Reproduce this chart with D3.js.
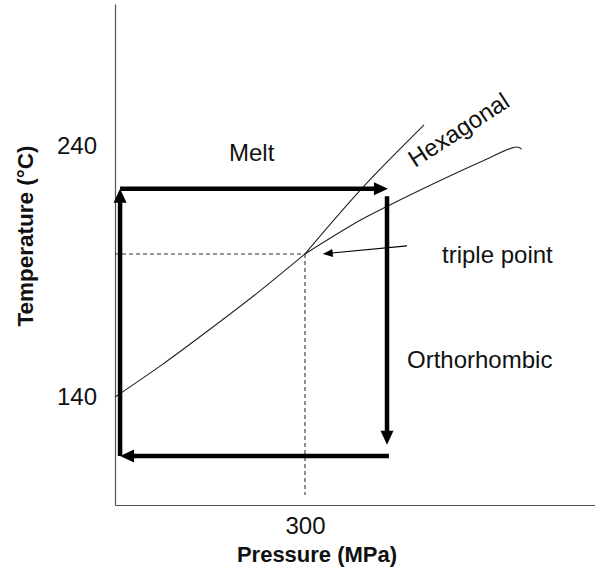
<!DOCTYPE html>
<html>
<head>
<meta charset="utf-8">
<script src="https://cdn.jsdelivr.net/npm/d3@7"></script>
<style>
  body { margin: 0; background: #fff; }
  text { font-family: "Liberation Sans", Arial, sans-serif; fill: #111; }
</style>
</head>
<body>
<svg id="chart" width="595" height="569"></svg>
<script>
// Axis ticks
const pressureTicks = [300];
const temperatureTicks = [140, 240];

// Phase boundaries as [pressure (MPa), temperature (°C)]
const orthoMeltBoundary = [[0, 140], [75, 153], [150, 167], [225, 181.5], [300, 197]];
const hexMeltBoundary = [[300, 197], [392, 223.7], [488, 248.4]];
const orthoHexBoundary = [[300, 197], [387, 210.4], [430, 216], [576, 233.5], [634, 239.6], [642, 238.8]];
const triplePoint = [300, 197];

// Processing cycle: heat, pressurise, cool, depressurise
const cycleLegs = [
  [[8, 116.5], [8, 223]],
  [[8, 223], [431, 223]],
  [[429.5, 220], [429.5, 121]],
  [[432.5, 116.5], [8, 116.5]]
];

// Leader pointing at the triple point
const pointerFrom = [461, 200.2];
const pointerTo = [328, 197];

const svg = d3.select("#chart");

const x = d3.scaleLinear().domain([0, 300]).range([115, 305]);
const y = d3.scaleLinear().domain([140, 240]).range([397, 146]);

// Axes span the full plotting frame
const xAxisScale = x.copy().domain([x.invert(115), x.invert(595)]).range([115, 595]);
const yAxisScale = y.copy().domain([y.invert(505), y.invert(4)]).range([505, 4]);

const xAxis = svg.append("g")
  .attr("transform", "translate(0,505)")
  .call(d3.axisBottom(xAxisScale).tickValues(pressureTicks).tickSize(0).tickPadding(12).tickFormat(d3.format("d")));
const yAxis = svg.append("g")
  .attr("transform", "translate(115,0)")
  .call(d3.axisLeft(yAxisScale).tickValues(temperatureTicks).tickSize(0).tickPadding(18).tickFormat(d3.format("d")));

[xAxis, yAxis].forEach(g => {
  g.select(".domain").attr("stroke", "#555").attr("stroke-width", 1.2);
  g.selectAll("text").attr("font-size", 24).attr("fill", "#111")
    .attr("font-family", "'Liberation Sans', Arial, sans-serif");
});

// Axis titles
svg.append("text")
  .attr("x", 317).attr("y", 562)
  .attr("text-anchor", "middle")
  .attr("font-size", 22).attr("font-weight", "bold")
  .text("Pressure (MPa)");
svg.append("text")
  .attr("transform", "translate(33,236) rotate(-90)")
  .attr("text-anchor", "middle")
  .attr("font-size", 22.5).attr("font-weight", "bold")
  .text("Temperature (°C)");

// Dashed guides to the triple point
const guides = svg.append("g")
  .attr("stroke", "#333").attr("stroke-width", 1.1).attr("stroke-dasharray", "4,3").attr("fill", "none");
guides.append("line")
  .attr("x1", x(0)).attr("y1", y(triplePoint[1]))
  .attr("x2", x(triplePoint[0])).attr("y2", y(triplePoint[1]));
guides.append("line")
  .attr("x1", x(triplePoint[0])).attr("y1", y(triplePoint[1]))
  .attr("x2", x(triplePoint[0])).attr("y2", y(101));

// Phase boundary curves
const curve = d3.line().x(d => x(d[0])).y(d => y(d[1])).curve(d3.curveCatmullRom.alpha(0.5));
svg.append("g")
  .attr("fill", "none").attr("stroke", "#222").attr("stroke-width", 1.1)
  .selectAll("path")
  .data([orthoMeltBoundary, hexMeltBoundary, orthoHexBoundary])
  .join("path")
  .attr("d", curve);

// Arrow drawing helper: shaft plus triangular head at the end point
function arrow(g, from, to, width, headLen, headHalf) {
  const x1 = x(from[0]), y1 = y(from[1]), x2 = x(to[0]), y2 = y(to[1]);
  const len = Math.hypot(x2 - x1, y2 - y1);
  const ux = (x2 - x1) / len, uy = (y2 - y1) / len;
  const bx = x2 - ux * headLen, by = y2 - uy * headLen;
  g.append("line")
    .attr("x1", x1).attr("y1", y1)
    .attr("x2", bx + ux * 1).attr("y2", by + uy * 1)
    .attr("stroke", "#000").attr("stroke-width", width);
  g.append("path")
    .attr("d", `M${x2},${y2}L${bx - uy * headHalf},${by + ux * headHalf}L${bx + uy * headHalf},${by - ux * headHalf}Z`)
    .attr("fill", "#000");
}

const cycle = svg.append("g");
cycleLegs.forEach(leg => arrow(cycle, leg[0], leg[1], 4.5, 14, 6.5));

const pointer = svg.append("g");
arrow(pointer, pointerFrom, pointerTo, 1.1, 10, 4);

// Phase labels
svg.append("text").attr("x", 229).attr("y", 161).attr("font-size", 24).text("Melt");
svg.append("text").attr("x", 442).attr("y", 263).attr("font-size", 24).text("triple point");
svg.append("text").attr("x", 407).attr("y", 368).attr("font-size", 24).text("Orthorhombic");
svg.append("text")
  .attr("transform", "translate(415,168) rotate(-33)")
  .attr("font-size", 24)
  .text("Hexagonal");
</script>
</body>
</html>
